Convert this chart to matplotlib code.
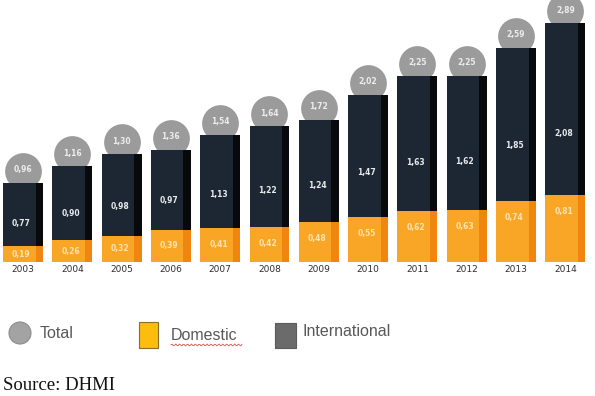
import numpy as np
import matplotlib
matplotlib.use("Agg")
import matplotlib.pyplot as plt
from matplotlib.patches import Rectangle, Circle

years = ["2003", "2004", "2005", "2006", "2007", "2008",
         "2009", "2010", "2011", "2012", "2013", "2014"]
domestic = [0.19, 0.26, 0.32, 0.39, 0.41, 0.42, 0.48, 0.55, 0.62, 0.63, 0.74, 0.81]
international = [0.77, 0.90, 0.98, 0.97, 1.13, 1.22, 1.24, 1.47, 1.63, 1.62, 1.85, 2.08]
total = [0.96, 1.16, 1.30, 1.36, 1.54, 1.64, 1.72, 2.02, 2.25, 2.25, 2.59, 2.89]

def fmt(v):
    return ("%.2f" % v).replace(".", ",")

W, H = 595, 396
fig = plt.figure(figsize=(W / 100, H / 100), dpi=100)

# bar chart area: baseline at 262 px from the top
pitch = 49.3
ax = fig.add_axes([0, (H - 262) / H, 1, 262 / H])
x0 = -3 / pitch
ax.set_xlim(x0, x0 + W / pitch)
ymax = 2.89 * 262 / 239
ax.set_ylim(0, ymax)
ax.axis("off")
upx = ymax / 262  # data units per pixel

x = np.arange(len(years))
bw = 0.81
sw = 0.15

# total circles behind the bars
circ_y = np.array(total) + 12 * upx
ax.scatter(x + bw / 2, circ_y, s=700, color="#9b9b9b", zorder=1, linewidths=0)
for i in x:
    ax.text(i + bw / 2, circ_y[i] + 1 * upx, fmt(total[i]), ha="center", va="center",
            fontsize=5.5, fontweight="bold", color="#ececec", zorder=2)

# stacked bars with a darker right-hand strip
ax.bar(x, domestic, width=bw, align="edge", color="#f9a626", zorder=3)
ax.bar(x + bw - sw, domestic, width=sw, align="edge", color="#f0860f", zorder=4)
ax.bar(x, international, width=bw, bottom=domestic, align="edge", color="#1c2733", zorder=3)
ax.bar(x + bw - sw, international, width=sw, bottom=domestic, align="edge",
       color="#07090b", zorder=4)

for i in x:
    d, n = domestic[i], international[i]
    ax.text(i + 0.37, max(d / 2, d - 0.2), fmt(d), ha="center", va="center",
            fontsize=5.5, fontweight="bold", color="#fde3b0", zorder=5)
    ax.text(i + 0.37, d + 0.36 * n, fmt(n), ha="center", va="center",
            fontsize=5.5, fontweight="bold", color="#e6e9ec", zorder=5)
    ax.text(i + bw / 2, -8 * upx, years[i], ha="center", va="center",
            fontsize=6.5, color="#2e2e2e", clip_on=False)

# legend and source in pixel coordinates
lg = fig.add_axes([0, 0, 1, 1], zorder=-1)
lg.set_xlim(0, W)
lg.set_ylim(H, 0)
lg.axis("off")
lg.add_patch(Circle((20, 333), 11, facecolor="#a3a3a3", edgecolor="#8c8c8c", lw=0.8))
lg.text(40, 333, "Total", fontsize=11.5, color="#595959", va="center",
        family="Liberation Sans")
lg.add_patch(Rectangle((139, 322), 19, 26, facecolor="#fdbd0f", edgecolor="#8a6d2a", lw=0.8))
lg.text(171, 335, "Domestic", fontsize=11.5, color="#595959", va="center",
        family="Liberation Sans")
wx = np.linspace(171, 242, 60)
lg.plot(wx, 345 + 1.0 * np.sin(wx * 1.6), color="#e05050", lw=0.6)
lg.add_patch(Rectangle((275, 323), 21, 25, facecolor="#6b6b6b", edgecolor="#5a5a5a", lw=0.8))
lg.text(302, 332, "International", fontsize=11.5, color="#595959", va="center",
        family="Liberation Sans")
lg.text(3, 385, "Source: DHMI", fontsize=13.5, color="#111111", va="center",
        family="Liberation Serif")

fig.savefig("out.png", dpi=100)
